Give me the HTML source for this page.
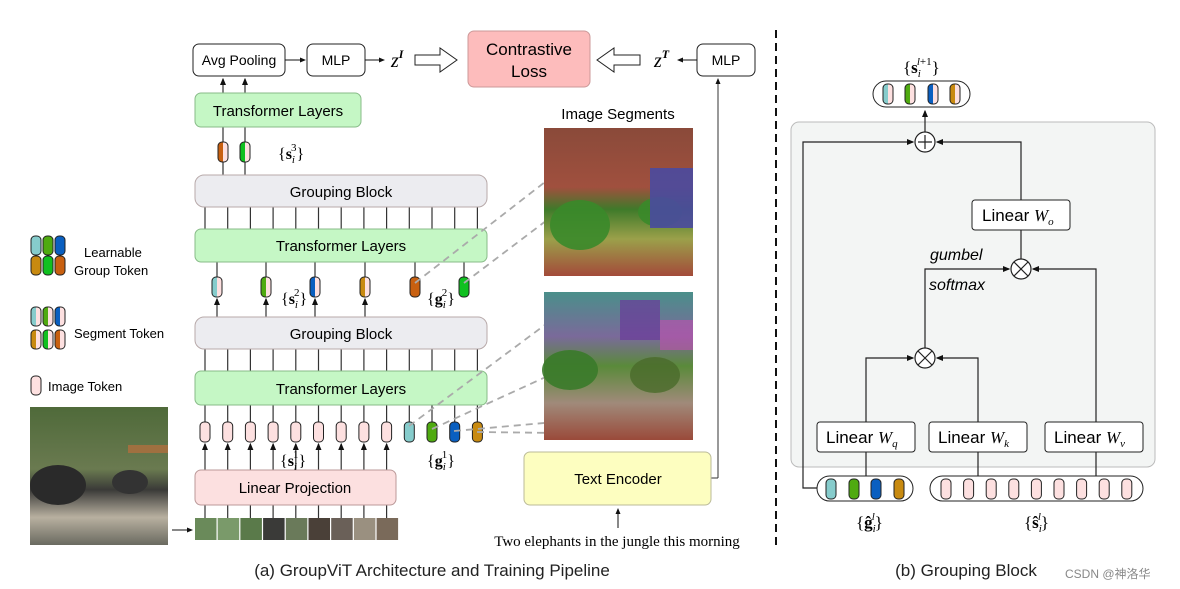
<!DOCTYPE html>
<html><head><meta charset="utf-8"><style>
html,body{margin:0;padding:0;background:#fff;}
svg{display:block;font-family:"Liberation Sans",Arial,sans-serif;}
.s{font-family:"Liberation Serif",serif;}
</style></head><body>
<svg id="sv" width="1180" height="589" viewBox="0 0 1180 589" xmlns="http://www.w3.org/2000/svg">
<defs>
<marker id="ar" markerWidth="6" markerHeight="6" refX="5" refY="3" orient="auto"><path d="M0,0.5 L6,3 L0,5.5 z" fill="#111"/></marker>
<linearGradient id="g1" x1="0" y1="0" x2="0" y2="1"><stop offset="0" stop-color="#8a4a3a"/><stop offset="0.4" stop-color="#a0503e"/><stop offset="0.55" stop-color="#3f7a2a"/><stop offset="0.75" stop-color="#9ba04a"/><stop offset="1" stop-color="#a34a3a"/></linearGradient>
<linearGradient id="g2" x1="0" y1="0" x2="0" y2="1"><stop offset="0" stop-color="#4a8f8a"/><stop offset="0.3" stop-color="#7a6a9a"/><stop offset="0.5" stop-color="#5a8a3a"/><stop offset="0.75" stop-color="#a08a7a"/><stop offset="1" stop-color="#9a4a3a"/></linearGradient>
<linearGradient id="g3" x1="0" y1="0" x2="0" y2="1"><stop offset="0" stop-color="#4f6a3a"/><stop offset="0.45" stop-color="#6a7a50"/><stop offset="0.6" stop-color="#3a3a38"/><stop offset="0.8" stop-color="#b8b0a0"/><stop offset="1" stop-color="#6a6a60"/></linearGradient>
</defs>
<g id="lines" stroke="#333" stroke-width="1.2" fill="none"></g>

<rect x="193" y="44" width="92" height="32" rx="6" fill="#fff" stroke="#222"/>
<text x="239" y="65" font-size="14" text-anchor="middle">Avg Pooling</text>
<rect x="307" y="44" width="58" height="32" rx="6" fill="#fff" stroke="#222"/>
<text x="336" y="65" font-size="14" text-anchor="middle">MLP</text>
<line x1="285" y1="60" x2="305" y2="60" stroke="#111" marker-end="url(#ar)"/>
<line x1="365" y1="60" x2="384" y2="60" stroke="#111" marker-end="url(#ar)"/>
<text x="391" y="67" font-size="20" class="s" font-style="italic">z<tspan font-size="12" dy="-9" font-weight="bold">I</tspan></text>
<path d="M415,55 H440 V48 L457,60 L440,72 V65 H415 Z" fill="#fff" stroke="#222"/>
<rect x="468" y="31" width="122" height="56" rx="6" fill="#fdbcbc" stroke="#c99"/>
<text x="529" y="55" font-size="17" text-anchor="middle">Contrastive</text>
<text x="529" y="77" font-size="17" text-anchor="middle">Loss</text>
<path d="M640,55 H614 V48 L597,60 L614,72 V65 H640 Z" fill="#fff" stroke="#222"/>
<text x="654" y="67" font-size="20" class="s" font-style="italic">z<tspan font-size="12" dy="-9" font-weight="bold">T</tspan></text>
<rect x="697" y="44" width="58" height="32" rx="6" fill="#fff" stroke="#222"/>
<text x="726" y="65" font-size="14" text-anchor="middle">MLP</text>
<line x1="697" y1="60" x2="678" y2="60" stroke="#111" marker-end="url(#ar)"/>
<line x1="718" y1="478" x2="718" y2="79" stroke="#333" marker-end="url(#ar)"/>
<line x1="711" y1="478" x2="718" y2="478" stroke="#333"/>

<rect x="195" y="93" width="166" height="34" rx="6" fill="#c5f7c5" stroke="#8b8"/>
<text x="278" y="116" font-size="15" text-anchor="middle">Transformer Layers</text>
<rect x="195" y="175" width="292" height="32" rx="9" fill="#ececf0" stroke="#b8aaaa"/>
<text x="341" y="197" font-size="15" text-anchor="middle">Grouping Block</text>
<rect x="195" y="229" width="292" height="33" rx="6" fill="#c5f7c5" stroke="#8b8"/>
<text x="341" y="251" font-size="15" text-anchor="middle">Transformer Layers</text>
<rect x="195" y="317" width="292" height="32" rx="9" fill="#ececf0" stroke="#b8aaaa"/>
<text x="341" y="339" font-size="15" text-anchor="middle">Grouping Block</text>
<rect x="195" y="371" width="292" height="34" rx="6" fill="#c5f7c5" stroke="#8b8"/>
<text x="341" y="394" font-size="15" text-anchor="middle">Transformer Layers</text>
<rect x="195" y="470" width="201" height="35" rx="6" fill="#fce0e0" stroke="#b99"/>
<text x="295" y="493" font-size="15" text-anchor="middle">Linear Projection</text>
<g id="patches"></g>
<line x1="172" y1="530" x2="192" y2="530" stroke="#111" marker-end="url(#ar)"/>

<g id="toks"></g>
<g id="dash" stroke="#aaa" stroke-width="1.8" stroke-dasharray="7,5" fill="none"></g>

<text x="278" y="159" font-size="16" class="s">{<tspan font-weight="bold">s</tspan><tspan font-size="11" dy="4" font-style="italic">i</tspan><tspan font-size="11" dx="-4" dy="-12">3</tspan><tspan dy="8">}</tspan></text>
<text x="281" y="304" font-size="16" class="s">{<tspan font-weight="bold">s</tspan><tspan font-size="11" dy="4" font-style="italic">i</tspan><tspan font-size="11" dx="-4" dy="-12">2</tspan><tspan dy="8">}</tspan></text>
<text x="427" y="304" font-size="16" class="s">{<tspan font-weight="bold">g</tspan><tspan font-size="11" dy="4" font-style="italic">i</tspan><tspan font-size="11" dx="-4" dy="-12">2</tspan><tspan dy="8">}</tspan></text>
<text x="280" y="466" font-size="16" class="s">{<tspan font-weight="bold">s</tspan><tspan font-size="11" dy="4" font-style="italic">i</tspan><tspan font-size="11" dx="-4" dy="-12">1</tspan><tspan dy="8">}</tspan></text>
<text x="427" y="466" font-size="16" class="s">{<tspan font-weight="bold">g</tspan><tspan font-size="11" dy="4" font-style="italic">i</tspan><tspan font-size="11" dx="-4" dy="-12">1</tspan><tspan dy="8">}</tspan></text>

<text x="618" y="119" font-size="15" text-anchor="middle">Image Segments</text>
<rect x="544" y="128" width="149" height="148" fill="url(#g1)"/>
<ellipse cx="580" cy="225" rx="30" ry="25" fill="#3a8a2a" opacity="0.9"/>
<ellipse cx="660" cy="212" rx="22" ry="15" fill="#3a8a2a" opacity="0.9"/>
<rect x="650" y="168" width="43" height="60" fill="#4a4aa0" opacity="0.9"/>
<rect x="544" y="292" width="149" height="148" fill="url(#g2)"/>
<rect x="620" y="300" width="40" height="40" fill="#6a3a9a" opacity="0.7"/>
<ellipse cx="570" cy="370" rx="28" ry="20" fill="#3a7a2a" opacity="0.9"/>
<ellipse cx="655" cy="375" rx="25" ry="18" fill="#4a6a2a" opacity="0.8"/>
<rect x="660" y="320" width="33" height="30" fill="#c050b0" opacity="0.6"/>

<rect x="524" y="452" width="187" height="53" rx="6" fill="#fdfec0" stroke="#bb9"/>
<text x="618" y="484" font-size="15" text-anchor="middle">Text Encoder</text>
<line x1="618" y1="528" x2="618" y2="509" stroke="#111" marker-end="url(#ar)"/>
<text x="617" y="546" font-size="15" class="s" text-anchor="middle">Two elephants in the jungle this morning</text>

<line x1="776" y1="30" x2="776" y2="545" stroke="#111" stroke-width="2" stroke-dasharray="8,5"/>

<g id="legend"></g>
<text x="84" y="257" font-size="13">Learnable</text>
<text x="74" y="275" font-size="13">Group Token</text>
<text x="74" y="338" font-size="13">Segment Token</text>
<text x="48" y="391" font-size="13">Image Token</text>
<rect x="30" y="407" width="138" height="138" fill="url(#g3)"/>
<ellipse cx="58" cy="485" rx="28" ry="20" fill="#2a2a2a"/>
<ellipse cx="130" cy="482" rx="18" ry="12" fill="#333"/>
<rect x="128" y="445" width="40" height="8" fill="#a07040"/>

<rect x="791" y="122" width="364" height="345" rx="8" fill="#f3f5f4" stroke="#bbb"/>
<text x="903" y="73" font-size="17" class="s">{<tspan font-weight="bold">s</tspan><tspan font-size="11" dy="4" font-style="italic">i</tspan><tspan font-size="11" dx="-4" dy="-12" font-style="italic">l</tspan><tspan font-size="11">+1</tspan><tspan dy="8">}</tspan></text>
<rect x="873" y="81" width="97" height="26" rx="13" fill="#fff" stroke="#222"/>
<g id="rp" stroke="#222" stroke-width="1.2" fill="none"></g>
<rect x="972" y="200" width="98" height="30" rx="3" fill="#fff" stroke="#222"/>
<text x="982" y="221" font-size="17">Linear <tspan class="s" font-style="italic">W</tspan><tspan class="s" font-style="italic" font-size="11" dy="4">o</tspan></text>
<text x="930" y="260" font-size="16" font-style="italic">gumbel</text>
<text x="929" y="290" font-size="16" font-style="italic">softmax</text>
<rect x="817" y="422" width="98" height="30" rx="3" fill="#fff" stroke="#222"/>
<text x="826" y="443" font-size="17">Linear <tspan class="s" font-style="italic">W</tspan><tspan class="s" font-style="italic" font-size="11" dy="4">q</tspan></text>
<rect x="929" y="422" width="98" height="30" rx="3" fill="#fff" stroke="#222"/>
<text x="938" y="443" font-size="17">Linear <tspan class="s" font-style="italic">W</tspan><tspan class="s" font-style="italic" font-size="11" dy="4">k</tspan></text>
<rect x="1045" y="422" width="98" height="30" rx="3" fill="#fff" stroke="#222"/>
<text x="1054" y="443" font-size="17">Linear <tspan class="s" font-style="italic">W</tspan><tspan class="s" font-style="italic" font-size="11" dy="4">v</tspan></text>
<rect x="817" y="476" width="96" height="25" rx="12.5" fill="#fff" stroke="#222"/>
<rect x="930" y="476" width="213" height="25" rx="12.5" fill="#fff" stroke="#222"/>
<text x="856" y="528" font-size="17" class="s">{<tspan font-weight="bold">ĝ</tspan><tspan font-size="11" dy="4" font-style="italic">i</tspan><tspan font-size="11" dx="-4" dy="-12" font-style="italic">l</tspan><tspan dy="8">}</tspan></text>
<text x="1024" y="528" font-size="17" class="s">{<tspan font-weight="bold">ŝ</tspan><tspan font-size="11" dy="4" font-style="italic">i</tspan><tspan font-size="11" dx="-4" dy="-12" font-style="italic">l</tspan><tspan dy="8">}</tspan></text>
<g id="rtoks"></g>

<text x="432" y="576" font-size="17" text-anchor="middle" fill="#222">(a) GroupViT Architecture and Training Pipeline</text>
<text x="966" y="576" font-size="17" text-anchor="middle" fill="#222">(b) Grouping Block</text>
<text x="1065" y="578" font-size="12" fill="#888">CSDN @神洛华</text>
</svg>
<script>
var NS="http://www.w3.org/2000/svg";
function el(p,t,a){var e=document.createElementNS(NS,t);for(var k in a)e.setAttribute(k,a[k]);document.getElementById(p).appendChild(e);return e;}
var C={c:"#86cccc",g:"#4faa10",b:"#0a5fc0",o:"#c88a10",G:"#10c020",r:"#c86010",p:"#fde0e0"};
function tok(p,x,y,col,split,w,h){w=w||10;h=h||20;
 el(p,"rect",{x:x-w/2,y:y,width:w,height:h,rx:4,fill:split?C.p:C[col]});
 if(split){el(p,"path",{d:"M"+x+","+y+" H"+(x-w/2+4)+" Q"+(x-w/2)+","+y+" "+(x-w/2)+","+(y+4)+" V"+(y+h-4)+" Q"+(x-w/2)+","+(y+h)+" "+(x-w/2+4)+","+(y+h)+" H"+x+" Z",fill:C[col]});}
 el(p,"rect",{x:x-w/2,y:y,width:w,height:h,rx:4,fill:"none",stroke:"#222","stroke-width":1});}
function ln(x1,y1,x2,y2,arr){var a={x1:x1,y1:y1,x2:x2,y2:y2};if(arr)a["marker-end"]="url(#ar)";el("lines","line",a);}
[223,245].forEach(function(x){ln(x,93,x,79,1);ln(x,142,x,127);ln(x,162,x,175);});
tok("toks",223,142,"r",1);tok("toks",245,142,"G",1);
var X13=[];for(var i=0;i<13;i++)X13.push(205+i*22.7);
X13.forEach(function(x){ln(x,207,x,229);ln(x,349,x,371);});
var X6=[217,266,315,365,415,464];
X6.forEach(function(x,i){ln(x,262,x,277);if(i<4)ln(x,317,x,299,1);});
var c6=["c","g","b","o","r","G"];
X6.forEach(function(x,i){tok("toks",x,277,c6[i],i<4);});
X13.forEach(function(x,i){ln(x,405,x,422);if(i<9){ln(x,470,x,444,1);ln(x,518,x,505);}});
var c4=["c","g","b","o"];
X13.forEach(function(x,i){tok("toks",x,422,i<9?"p":c4[i-9],false);});
var pc=["#6a8a5a","#7a9a6a","#5a7a4a","#3a3a38","#6a7a5a","#4a4038","#6a6058","#9a9080","#7a6a5a"];
for(var i=0;i<9;i++)el("patches","rect",{x:195+i*22.7,y:518,width:21.5,height:22,fill:pc[i]});
[[415,283,563,168],[464,283,563,208],[409,426,565,310],[432,429,550,375],[454,431,555,422],[477,432,560,433]].forEach(function(d){el("dash","line",{x1:d[0],y1:d[1],x2:d[2],y2:d[3]});});
[["c",36],["g",48],["b",60]].forEach(function(a){tok("legend",a[1],236,a[0],0,10,19);});
[["o",36],["G",48],["r",60]].forEach(function(a){tok("legend",a[1],256,a[0],0,10,19);});
[["c",36],["g",48],["b",60]].forEach(function(a){tok("legend",a[1],307,a[0],1,10,19);});
[["o",36],["G",48],["r",60]].forEach(function(a){tok("legend",a[1],330,a[0],1,10,19);});
tok("legend",36,376,"p",0,10,19);
function rl(d,arr){var a={d:d};if(arr)a["marker-end"]="url(#ar)";el("rp","path",a);}
rl("M817,488 H803 V142 H913",1);
rl("M1021,200 V142 H937",1);
rl("M925,132 V111",1);
rl("M1021,230 V259");
rl("M925,348 V269 H1009",1);
rl("M1096,422 V269 H1033",1);
rl("M866,476 V452");rl("M866,422 V358 H913",1);
rl("M978,476 V452");rl("M978,422 V358 H937",1);
rl("M1096,476 V452");
[[925,142,"+"],[1021,269,"x"],[925,358,"x"]].forEach(function(c){
 el("rp","circle",{cx:c[0],cy:c[1],r:10,fill:"#fff"});
 if(c[2]=="+")rl("M"+(c[0]-7)+","+c[1]+" H"+(c[0]+7)+" M"+c[0]+","+(c[1]-7)+" V"+(c[1]+7));
 else rl("M"+(c[0]-7)+","+(c[1]-7)+" L"+(c[0]+7)+","+(c[1]+7)+" M"+(c[0]+7)+","+(c[1]-7)+" L"+(c[0]-7)+","+(c[1]+7));});
[["c",888],["g",910],["b",933],["o",955]].forEach(function(a){tok("rtoks",a[1],84,a[0],1,10,20);});
[["c",831],["g",854],["b",876],["o",899]].forEach(function(a){tok("rtoks",a[1],479,a[0],0,10,20);});
for(var i=0;i<9;i++)tok("rtoks",946+i*22.6,479,"p",0,10,20);
</script>
</body></html>
